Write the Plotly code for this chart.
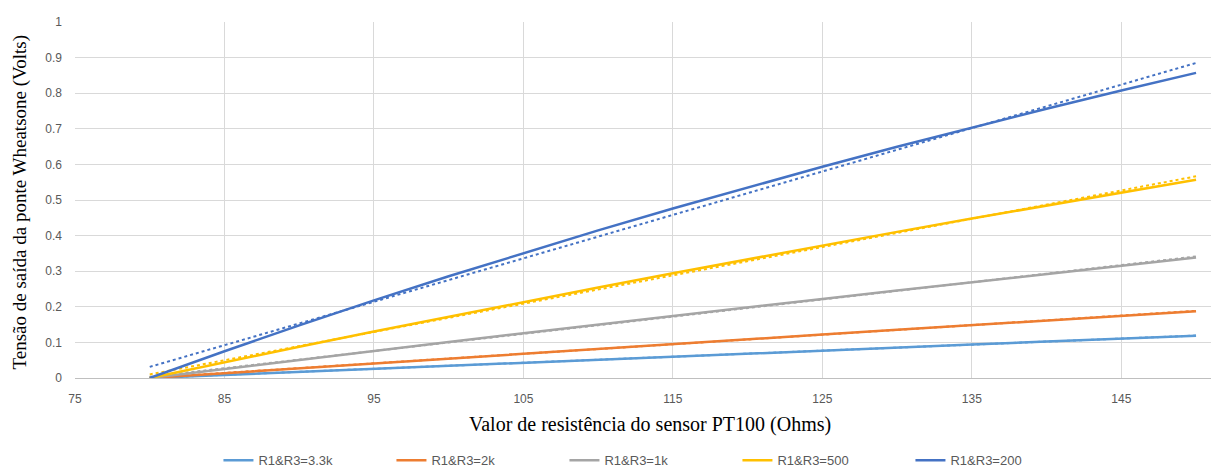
import plotly.graph_objects as go
import numpy as np

resistance = [80, 85, 90, 95, 100, 105, 110, 115, 120, 125, 130, 135, 140, 145, 150]

v_3k3 = [0.0, 0.0087, 0.0173, 0.0259, 0.0345, 0.0430, 0.0515, 0.0600, 0.0685, 0.0770, 0.0854, 0.0938, 0.1022, 0.1105, 0.1189]
v_2k = [0.0, 0.0138, 0.0276, 0.0413, 0.0549, 0.0685, 0.0820, 0.0955, 0.1089, 0.1222, 0.1354, 0.1486, 0.1618, 0.1748, 0.1878]
v_1k = [0.0, 0.0256, 0.0510, 0.0761, 0.1010, 0.1257, 0.1502, 0.1744, 0.1984, 0.2222, 0.2458, 0.2692, 0.2924, 0.3154, 0.3382]
v_500 = [0.0, 0.0442, 0.0877, 0.1304, 0.1724, 0.2137, 0.2544, 0.2944, 0.3337, 0.3724, 0.4105, 0.4480, 0.4849, 0.5213, 0.5570]
v_200 = [0.0, 0.0752, 0.1478, 0.2179, 0.2857, 0.3513, 0.4147, 0.4762, 0.5357, 0.5934, 0.6494, 0.7036, 0.7563, 0.8075, 0.8571]

series_names = ["R1&R3=3.3k", "R1&R3=2k", "R1&R3=1k", "R1&R3=500", "R1&R3=200"]
series_values = [v_3k3, v_2k, v_1k, v_500, v_200]
colors = ["#5B9BD5", "#ED7D31", "#A5A5A5", "#FFC000", "#4472C4"]

x_ticks = [75, 85, 95, 105, 115, 125, 135, 145]
y_ticks = [0, 0.1, 0.2, 0.3, 0.4, 0.5, 0.6, 0.7, 0.8, 0.9, 1]
y_tick_text = ["0", "0.1", "0.2", "0.3", "0.4", "0.5", "0.6", "0.7", "0.8", "0.9", "1"]

x_title = "Valor de resistência do sensor PT100 (Ohms)"
y_title = "Tensão de saída da ponte Wheatsone (Volts)"

fig = go.Figure()

# linear trendlines (Excel-style), computed from the data
for name, vals, col in zip(series_names, series_values, colors):
    slope, intercept = np.polyfit(resistance, vals, 1)
    xs = [resistance[0], resistance[-1]]
    ys = [slope * xv + intercept for xv in xs]
    fig.add_trace(go.Scatter(x=xs, y=ys, mode="lines", showlegend=False,
                             line=dict(color=col, width=2, dash="dot"),
                             hoverinfo="skip"))

for name, vals, col in zip(series_names, series_values, colors):
    fig.add_trace(go.Scatter(x=resistance, y=vals, mode="lines", name=name,
                             line=dict(color=col, width=2.5)))

serif = "Liberation Serif, Times New Roman, serif"

fig.update_layout(
    width=1211, height=468,
    margin=dict(l=75, r=0, t=22, b=90, autoexpand=False),
    plot_bgcolor="white", paper_bgcolor="white",
    font=dict(family="Liberation Sans, Arial, sans-serif", color="#595959", size=12),
    legend=dict(orientation="h", x=0.507, xanchor="center", y=-0.231, yanchor="middle",
                font=dict(size=13, color="#595959"), entrywidth=128,
                itemwidth=30),
    xaxis=dict(range=[75, 151], tickvals=x_ticks, showgrid=True, gridcolor="#D9D9D9",
               gridwidth=1, zeroline=False, showline=True, linecolor="#BFBFBF",
               ticks="", tickfont=dict(size=12, color="#595959"), automargin=False,
               ticklabelstandoff=10),
    yaxis=dict(range=[0, 1], tickvals=y_ticks, ticktext=y_tick_text, showgrid=True,
               gridcolor="#D9D9D9", gridwidth=1, zeroline=False, showline=False,
               ticks="", tickfont=dict(size=12, color="#595959"), automargin=False,
               ticklabelstandoff=12),
    annotations=[
        dict(text=x_title, xref="paper", yref="paper", x=0.506, y=-0.13,
             xanchor="center", yanchor="middle", showarrow=False,
             font=dict(family=serif, size=20, color="#000000")),
        dict(text=y_title, xref="paper", yref="paper", x=-0.0484, y=0.493,
             xanchor="center", yanchor="middle", showarrow=False, textangle=-90,
             font=dict(family=serif, size=19, color="#000000")),
    ],
)

fig.write_html("out.html", config={"displayModeBar": False},
               post_script="document.body.style.margin='0px';")
